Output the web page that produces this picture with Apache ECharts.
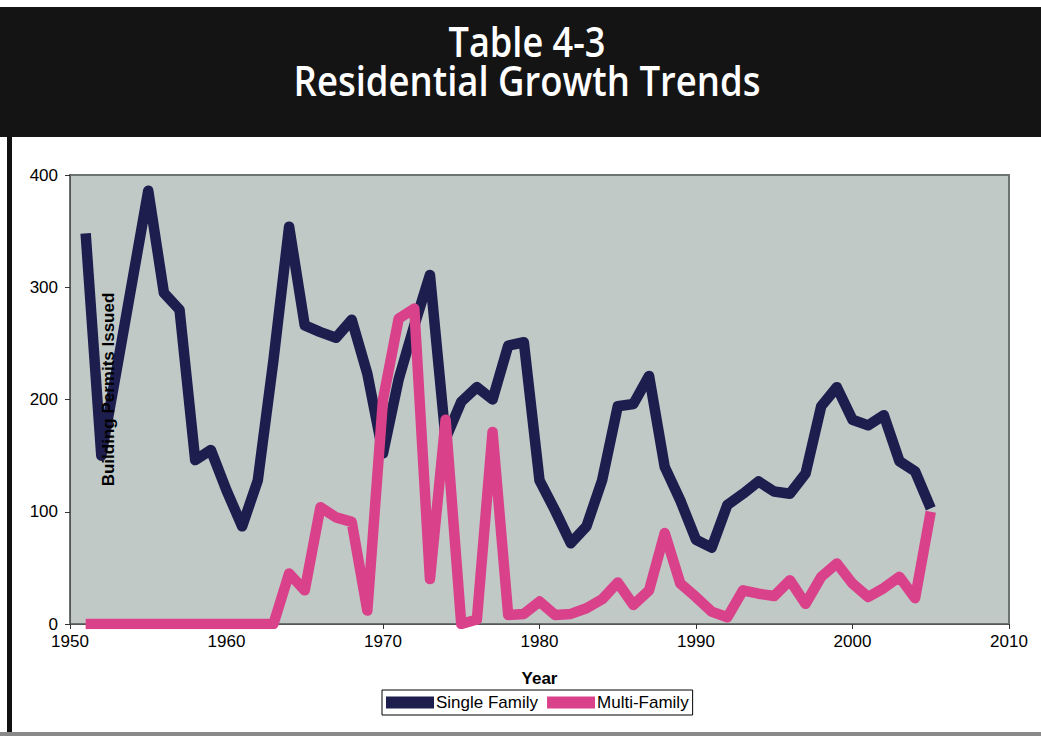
<!DOCTYPE html>
<html>
<head>
<meta charset="utf-8">
<script src="https://cdn.jsdelivr.net/npm/echarts@6/dist/echarts.min.js"></script>
<style>
html,body{margin:0;padding:0;background:#fff;}
#chart{width:1041px;height:736px;}
</style>
</head>
<body>
<div id="chart"></div>
<script>
const titleLines = ['Table 4-3', 'Residential Growth Trends'];
const xAxisName = 'Year';
const yAxisName = 'Building Permits Issued';
const seriesNames = ['Single Family', 'Multi-Family'];
const years = [1951,1952,1953,1954,1955,1956,1957,1958,1959,1960,1961,1962,1963,1964,1965,1966,1967,1968,1969,1970,1971,1972,1973,1974,1975,1976,1977,1978,1979,1980,1981,1982,1983,1984,1985,1986,1987,1988,1989,1990,1991,1992,1993,1994,1995,1996,1997,1998,1999,2000,2001,2002,2003,2004,2005];
const singleFamily = [348,150,228,307,386,295,280,146,155,119,87,128,235,354,266,260,255,271,223,152,218,266,311,165,198,211,200,248,251,128,101,72,87,128,194,196,221,140,110,75,68,106,116,127,118,116,134,194,211,182,177,186,145,136,103];
const multiFamily = [0,0,0,0,0,0,0,0,0,0,0,0,0,45,30,104,95,91,12,200,272,281,40,182,0,4,171,8,9,20,8,9,14,22,37,17,30,81,36,24,11,6,30,27,25,39,18,42,54,36,24,32,42,23,100];
const xTicks = {min:1950, max:2010, interval:10};
const yTicks = {min:0, max:400, interval:100};

function pairs(xs, ys){ return xs.map((x,i)=>[x, ys[i]]); }

const titleFont = '600 41px "Open Sans"';
const cv = document.createElement('canvas').getContext('2d');
cv.font = titleFont;
const targetW = [157, 467];
const scales = titleLines.map((t,i)=> targetW[i] / cv.measureText(t).width);

const chart = echarts.init(document.getElementById('chart'), null, {renderer:'svg'});
chart.setOption({
  backgroundColor:'#ffffff',
  animation:false,
  graphic:[
    {type:'rect', shape:{x:0,y:7,width:1041,height:130}, style:{fill:'#141414'}, z:-10},
    {type:'rect', shape:{x:7,y:137,width:5,height:599}, style:{fill:'#111'}, z:-10},
    {type:'rect', shape:{x:0,y:732,width:1041,height:4}, style:{fill:'#8a8a8a'}, z:-10},
    {type:'text', x:527, y:41, scaleX:scales[0], style:{text:titleLines[0], fill:'#ffffff', font:titleFont, align:'center', verticalAlign:'middle'}},
    {type:'text', x:527, y:80, scaleX:scales[1], style:{text:titleLines[1], fill:'#ffffff', font:titleFont, align:'center', verticalAlign:'middle'}}
  ],
  grid:{left:70, right:32, top:175, bottom:112, show:true, backgroundColor:'#c1c9c7', borderColor:'#6d7371', borderWidth:2},
  legend:{
    data:seriesNames, left:382, top:690, orient:'horizontal',
    icon:'rect', itemWidth:48, itemHeight:12, itemGap:9,
    borderColor:'#000', borderWidth:1, padding:[4,4,4,4], backgroundColor:'#fff',
    textStyle:{fontFamily:'Liberation Sans, Arial', fontSize:17, color:'#000', padding:[0,0,0,-3]}
  },
  xAxis:{
    type:'value', min:xTicks.min, max:xTicks.max, interval:xTicks.interval,
    name:xAxisName, nameLocation:'middle', nameGap:46,
    nameTextStyle:{fontFamily:'Liberation Sans, Arial', fontWeight:'bold', fontSize:17, color:'#000'},
    axisLine:{show:true, lineStyle:{color:'#555', width:1}},
    axisTick:{show:true, inside:false, length:5, lineStyle:{color:'#333'}},
    axisLabel:{fontFamily:'Liberation Sans, Arial', fontSize:17, color:'#000', margin:9, formatter:v=>String(v)},
    splitLine:{show:false}
  },
  yAxis:{
    type:'value', min:yTicks.min, max:yTicks.max, interval:yTicks.interval, z:10,
    name:yAxisName, nameLocation:'middle', nameGap:-47, nameRotate:90,
    nameTextStyle:{fontFamily:'Liberation Sans, Arial', fontWeight:'bold', fontSize:17, color:'#000', padding:[0,0,0,20]},
    axisLine:{show:true, lineStyle:{color:'#555', width:1}},
    axisTick:{show:true, inside:false, length:5, lineStyle:{color:'#333'}},
    axisLabel:{fontFamily:'Liberation Sans, Arial', fontSize:17, color:'#000', margin:12},
    splitLine:{show:false}
  },
  series:[
    {name:seriesNames[0], type:'line', data:pairs(years, singleFamily), symbol:'none',
     itemStyle:{color:'#1d1e4e'}, lineStyle:{color:'#1d1e4e', width:10.5, join:'round', cap:'butt'}, z:2},
    {name:seriesNames[1], type:'line', data:pairs(years, multiFamily), symbol:'none',
     itemStyle:{color:'#d9428a'}, lineStyle:{color:'#d9428a', width:10.5, join:'round', cap:'butt'}, z:3}
  ]
});
</script>
</body>
</html>
